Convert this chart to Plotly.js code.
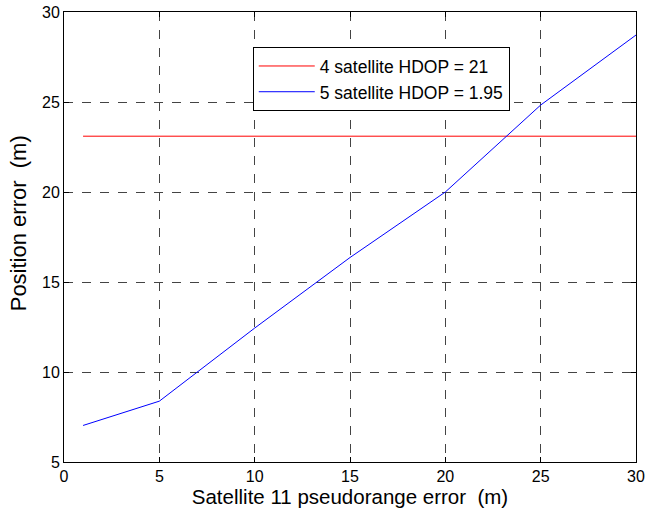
<!DOCTYPE html>
<html>
<head>
<meta charset="utf-8">
<script src="https://cdn.plot.ly/plotly-3.0.1.min.js"></script>
<style>html,body{margin:0;padding:0;background:#fff;}#chart{width:649px;height:519px;}</style>
</head>
<body>
<div id="chart"></div>
<script>
const redX = [1, 30];
const redY = [23.1, 23.1];
const blueX = [1, 5, 10, 15, 20, 25, 30];
const blueY = [7.03, 8.38, 12.44, 16.36, 20.0, 24.83, 28.72];
const seriesNames = ["4 satellite HDOP = 21", "5 satellite HDOP = 1.95"];
const xTicks = [0, 5, 10, 15, 20, 25, 30];
const yTicks = [5, 10, 15, 20, 25, 30];

const font = "Liberation Sans, Arial, Helvetica, sans-serif";
const axisCommon = {
  showline: true, linecolor: "#000", linewidth: 1, mirror: "ticks",
  ticks: "inside", ticklen: 5, tickcolor: "#000", tickwidth: 1,
  showgrid: true, gridcolor: "#444", gridwidth: 1, griddash: "dash",
  zeroline: false, tickfont: {family: font, size: 16, color: "#000"},
  tickmode: "array"
};
const data = [
  {x: redX, y: redY, name: seriesNames[0], mode: "lines", line: {color: "#ff0000", width: 1}},
  {x: blueX, y: blueY, name: seriesNames[1], mode: "lines", line: {color: "#0000ff", width: 1}}
];
const layout = {
  width: 649, height: 519,
  margin: {l: 64, r: 13, t: 12, b: 57},
  paper_bgcolor: "#fff", plot_bgcolor: "#fff",
  font: {family: font, color: "#000"},
  showlegend: true,
  legend: {
    x: 0.33, y: 0.922, xanchor: "left", yanchor: "top",
    bgcolor: "#fff", bordercolor: "#000", borderwidth: 1,
    font: {family: font, size: 17.5, color: "#000"},
    tracegroupgap: 0, itemwidth: 56
  },
  xaxis: Object.assign({}, axisCommon, {
    range: [0, 30], tickvals: xTicks, ticktext: xTicks.map(String),
    title: {text: "Satellite 11 pseudorange error \u00a0(m)", font: {family: font, size: 20.5, color: "#000"}, standoff: 3}
  }),
  yaxis: Object.assign({}, axisCommon, {
    range: [5, 30], tickvals: yTicks, ticktext: yTicks.map(String)
  }),
  annotations: [{
    text: "Position error \u00a0(m)", textangle: -90, showarrow: false,
    xref: "paper", yref: "paper", x: -0.08, y: 0.531,
    xanchor: "center", yanchor: "middle",
    font: {family: font, size: 22, color: "#000"}
  }]
};
Plotly.newPlot("chart", data, layout, {displayModeBar: false, staticPlot: true});
</script>
</body>
</html>
